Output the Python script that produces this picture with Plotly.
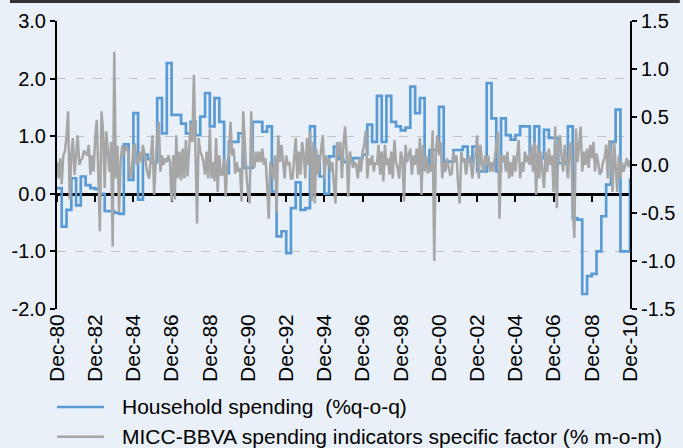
import pandas as pd
import plotly.graph_objects as go

# Household spending (%q-o-q), quarterly from Dec-80 to Dec-10 (left axis)
household = [
    0.10, -0.57, -0.28, 0.27, -0.20, 0.30, 0.15, 0.10, 0.08, 0.00,
    -0.30, -0.30, -0.33, -0.35, 0.86, 0.24, 1.40, -0.10, 0.68, 0.60,
    0.55, 1.66, 1.05, 2.27, 1.37, 1.37, 1.22, 1.05, 1.25, 1.02,
    1.34, 1.75, 1.17, 1.66, 1.25, 0.36, 0.90, 0.90, 1.05, 0.45,
    0.45, 1.25, 1.25, 1.08, 1.17, 0.04, -0.74, -0.65, -1.03, -0.25,
    0.20, -0.28, -0.25, 1.17, 0.65, 0.30, 0.00, 0.65, 0.82, 0.60,
    0.55, 0.55, 0.62, 0.62, 0.68, 1.20, 0.90, 1.70, 0.90, 1.70,
    1.25, 1.17, 1.10, 1.15, 1.86, 1.40, 1.66, 0.47, 0.76, 0.76,
    1.51, 0.56, 0.56, 0.76, 0.76, 0.82, 0.56, 0.82, 0.39, 0.39,
    1.92, 1.31, 0.39, 1.31, 1.02, 0.94, 1.02, 1.17, 1.17, 0.70,
    1.17, 0.62, 1.11, 0.97, 0.97, 0.53, 0.53, 1.17, -0.42, -0.45,
    -1.74, -1.43, -1.39, -1.00, -0.39, 0.16, 0.90, 1.46, -1.00, -1.00,
    0.27,
]

# MICC-BBVA spending indicators specific factor (% m-o-m), monthly (right axis)
micc = [
    0.03, -0.14, 0.07, -0.2, 0.1, 0.14, 0.3, 0.56, -0.36, 0.1,
    0.28, -0.1, 0.1, 0.31, 0.0, 0.05, 0.07, 0.15, 0.12, 0.1,
    0.21, -0.1, 0.1, -0.07, 0.28, 0.47, -0.14, -0.69, 0.56, 0.35,
    -0.24, 0.35, 0.14, -0.07, 0.24, -0.85, 1.18, -0.14, 0.2, -0.49,
    0.03, 0.2, 0.1, 0.17, 0.2, 0.1, -0.14, -0.07, 0.2, 0.21,
    0.0, 0.03, 0.14, 0.03, 0.21, 0.1, -0.03, -0.1, -0.14, 0.07,
    0.31, -0.31, 0.1, 0.31, 0.45, -0.07, 0.1, 0.0, 0.07, 0.03,
    0.1, 0.03, -0.38, 0.1, -0.36, 0.31, -0.14, 0.14, -0.16, 0.17,
    -0.14, 0.26, -0.12, 0.24, 0.43, 0.24, 0.94, 0.14, -0.61, 0.28,
    0.14, 0.1, 0.03, -0.1, 0.14, -0.14, 0.38, -0.14, 0.03, -0.17,
    0.28, -0.28, 0.1, -0.1, -0.1, 0.07, -0.33, 0.03, 0.1, 0.45,
    0.1, 0.17, -0.09, 0.03, -0.07, -0.03, -0.38, 0.56, 0.21, -0.1,
    -0.28, -0.4, 0.56, 0.03, -0.03, 0.14, 0.03, 0.14, 0.03, 0.17,
    0.0, 0.07, -0.21, -0.56, 0.03, -0.07, -0.14, 0.1, -0.49, 0.31,
    0.03, 0.21, 0.0, -0.14, 0.1, 0.0, 0.03, -0.14, -0.14, 0.03,
    0.28, -0.14, 0.14, -0.1, 0.24, 0.1, -0.14, 0.28, 0.0, 0.35,
    -0.38, 0.24, -0.4, 0.17, -0.1, 0.03, 0.21, 0.31, -0.14, 0.1,
    0.0, 0.07, -0.07, 0.03, -0.2, -0.4, 0.24, 0.1, 0.24, -0.14,
    0.21, 0.4, 0.1, -0.33, 0.14, 0.07, -0.03, 0.03, 0.0, -0.14,
    0.07, -0.07, 0.14, 0.21, 0.36, -0.14, 0.07, 0.0, 0.1, -0.07,
    0.03, 0.0, 0.21, -0.1, 0.14, -0.17, 0.21, 0.0, 0.07, -0.1,
    0.14, -0.14, 0.26, 0.03, -0.03, -0.14, 0.14, 0.07, -0.38, 0.21,
    0.03, 0.1, 0.17, -0.1, 0.1, 0.0, 0.17, -0.1, 0.28, -0.31,
    0.21, -0.07, 0.1, -0.09, 0.0, -0.07, 0.36, -1.0, 0.14, 0.31,
    0.1, 0.24, -0.14, 0.03, -0.07, 0.07, -0.03, -0.1, -0.09, 0.14,
    0.03, 0.1, -0.2, -0.4, 0.14, 0.03, 0.07, -0.1, 0.03, 0.1,
    0.0, -0.14, 0.07, 0.1, 0.31, -0.14, 0.21, 0.03, -0.07, 0.1,
    0.0, 0.1, -0.07, 0.03, -0.07, 0.07, 0.2, 0.35, -0.56, 0.1,
    0.03, 0.1, -0.07, 0.14, -0.14, 0.03, -0.12, 0.1, -0.07, 0.07,
    0.26, -0.14, 0.03, -0.07, 0.14, 0.03, 0.1, 0.0, 0.21, -0.07,
    0.24, -0.31, 0.21, -0.14, 0.14, -0.07, -0.24, 0.14, -0.07, 0.17,
    0.0, 0.1, -0.28, 0.4, -0.45, 0.21, 0.31, 0.1, -0.07, 0.21,
    0.0, -0.14, 0.17, 0.24, -0.42, -0.76, 0.38, 0.03, 0.21, 0.4,
    -0.07, 0.14, 0.0, 0.17, -0.03, 0.21, 0.07, 0.24, -0.07, 0.12,
    0.03, -0.1, -0.07, 0.03, 0.07, 0.21, -0.14, 0.26, 0.1, -0.28,
    0.24, -0.07, -0.28, 0.1, -0.14, 0.03, -0.07, 0.0, 0.07, -0.02,
    0.05,
]

quarter_dates = pd.date_range("1980-12-01", periods=len(household), freq="3MS")
month_dates = pd.date_range("1980-12-01", periods=len(micc), freq="MS")

tick_dates = ["1980-12-01", "1982-12-01", "1984-12-01", "1986-12-01", "1988-12-01",
              "1990-12-01", "1992-12-01", "1994-12-01", "1996-12-01", "1998-12-01",
              "2000-12-01", "2002-12-01", "2004-12-01", "2006-12-01", "2008-12-01",
              "2010-12-01"]
tick_labels = ["Dec-80", "Dec-82", "Dec-84", "Dec-86", "Dec-88", "Dec-90", "Dec-92",
               "Dec-94", "Dec-96", "Dec-98", "Dec-00", "Dec-02", "Dec-04", "Dec-06",
               "Dec-08", "Dec-10"]

left_ticks = [-2, -1, 0, 1, 2, 3]
left_labels = ["-2.0", "-1.0", "0.0", "1.0", "2.0", "3.0"]
right_ticks = [-1.5, -1.0, -0.5, 0.0, 0.5, 1.0, 1.5]
right_labels = ["-1.5", "-1.0", "-0.5", "0.0", "0.5", "1.0", "1.5"]

series_names = ["Household spending\u00a0\u00a0(%q-o-q)",
                "MICC-BBVA spending indicators specific factor (% m-o-m)"]

BG = "#e9f0f7"
BLUE = "#5b9bd5"
GREY = "#a6a6a6"
FONT = "Liberation Sans, Arial, sans-serif"
XR = ["1980-12-01", "2010-12-01"]

fig = go.Figure()
fig.add_trace(go.Scatter(
    x=quarter_dates, y=household, mode="lines", line=dict(color=BLUE, width=2.7, shape="hv"),
    name=series_names[0], xaxis="x", yaxis="y"))
fig.add_trace(go.Scatter(
    x=month_dates, y=micc, mode="lines", line=dict(color=GREY, width=2.5),
    name=series_names[1], xaxis="x", yaxis="y2"))
# invisible trace to host the zero-line axis
fig.add_trace(go.Scatter(x=[XR[0]], y=[0], mode="lines", showlegend=False,
                         hoverinfo="skip", xaxis="x2", yaxis="y", line=dict(width=0)))

# legend drawn by hand below the plot
legend_shapes = []
legend_annotations = []
for i, (name, col) in enumerate(zip(series_names, [BLUE, GREY])):
    yy = -0.340 - 0.104 * i
    legend_shapes.append(dict(type="line", xref="paper", yref="paper", x0=0.0, x1=0.082,
                              y0=yy, y1=yy, line=dict(color=col, width=2.5)))
    legend_annotations.append(dict(text=name, xref="paper", yref="paper", x=0.110, y=yy,
                                   xanchor="left", yanchor="middle", showarrow=False,
                                   font=dict(size=21, color="#000")))

fig.update_layout(
    template="none",
    width=683, height=448,
    paper_bgcolor=BG, plot_bgcolor=BG,
    margin=dict(l=57, r=53, t=21, b=139, autoexpand=False),
    font=dict(family=FONT, color="#000000", size=20),
    showlegend=False,
    xaxis=dict(range=XR, type="date", tickvals=tick_dates, ticktext=tick_labels,
               tickangle=-90, ticks="", showline=False, showgrid=False, zeroline=False,
               tickfont=dict(size=21), anchor="y", automargin=False),
    xaxis2=dict(range=XR, type="date", overlaying="x", anchor="free", position=0.4,
                tickvals=tick_dates, showticklabels=False, ticks="outside", ticklen=6,
                tickwidth=1.5, tickcolor="#000", showline=True, linecolor="#000",
                linewidth=2.5, showgrid=False, zeroline=False, layer="below traces",
                automargin=False),
    yaxis=dict(range=[-2, 3], tickvals=left_ticks, ticktext=left_labels,
               showline=True, linecolor="#000",
               linewidth=2, ticks="outside", ticklen=5, tickcolor="#000", tickwidth=1.5,
               showgrid=True, gridcolor="#c0c4c8", griddash="dash", gridwidth=1,
               zeroline=False, tickfont=dict(size=20), automargin=False),
    yaxis2=dict(range=[-1.5, 1.5], tickvals=right_ticks, ticktext=right_labels,
                overlaying="y", side="right",
                showline=True, linecolor="#000", linewidth=2, ticks="outside", ticklen=5,
                tickcolor="#000", tickwidth=1.5, showgrid=False, zeroline=False,
                tickfont=dict(size=20), automargin=False),
    shapes=[dict(type="line", xref="paper", yref="paper", x0=-0.082, x1=1.087,
                 y0=1.068, y1=1.068, line=dict(color="#333333", width=3))] + legend_shapes,
    annotations=legend_annotations,
)

fig.write_html("out.html", config={"displayModeBar": False},
               post_script="document.body.style.margin='0';document.body.style.overflow='hidden';")
